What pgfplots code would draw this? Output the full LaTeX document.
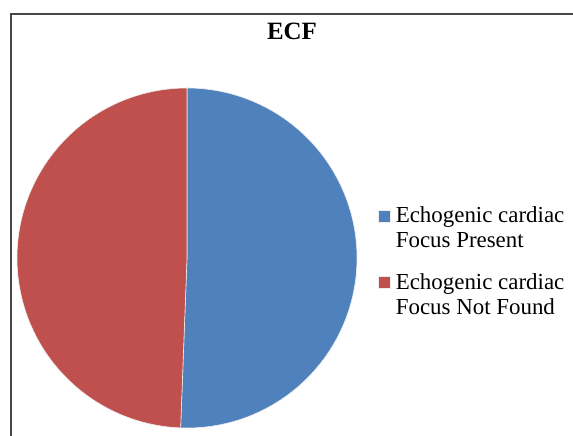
\documentclass[border=0pt]{standalone}
\usepackage{pgfplots}
\pgfplotsset{compat=1.18}
\usepackage{fontspec}
\setmainfont{Liberation Serif}
\definecolor{ecfblue}{HTML}{4F81BD}
\definecolor{ecfred}{HTML}{C0504D}
\begin{document}
\begin{tikzpicture}[x=1bp,y=1bp]
\path[use as bounding box, clip] (0,0) rectangle (573,436);
\draw[line width=2bp, draw=black!72] (11,-20) -- (11,422) -- (600,422);
\node[font=\bfseries\fontsize{25}{30}\selectfont, anchor=base] at (292,396) {ECF};
% data: percentage of cases
\pgfmathsetmacro{\vA}{50.6}% Echogenic cardiac Focus Present
\pgfmathsetmacro{\vB}{49.4}% Echogenic cardiac Focus Not Found
\pgfmathsetmacro{\fracA}{\vA/(\vA+\vB)}
\pgfmathsetmacro{\aStart}{90}
\pgfmathsetmacro{\aMid}{90-360*\fracA}
\pgfmathsetmacro{\aEnd}{90-360}
\begin{axis}[at={(187bp,178bp)}, anchor=center, scale only axis,
  width=340bp, height=340bp, xmin=-1, xmax=1, ymin=-1, ymax=1,
  hide axis, clip=false,
  legend cell align=left,
  legend style={draw=none, fill=none, at={(axis description cs:1.053,0.49)}, anchor=west,
    font=\fontsize{23}{25}\selectfont, nodes={align=left, inner sep=0pt},
    row sep=24bp, /tikz/every odd column/.append style={column sep=5bp}},
  legend image code/.code={\fill[#1] (0bp,6bp) rectangle (12bp,18bp);}]
\addplot[fill=ecfblue, draw=white!85!gray, line width=0.6pt, domain=\aMid:\aStart, samples=181, variable=\t]
  ({cos(\t)}, {sin(\t)}) -- (axis cs:0,0) -- cycle;
\addlegendentry{Echogenic cardiac\\Focus Present}
\addplot[fill=ecfred, draw=white!85!gray, line width=0.6pt, domain=\aEnd:\aMid, samples=181, variable=\t]
  ({cos(\t)}, {sin(\t)}) -- (axis cs:0,0) -- cycle;
\addlegendentry{Echogenic cardiac\\Focus Not Found}
\end{axis}
\end{tikzpicture}
\end{document}
